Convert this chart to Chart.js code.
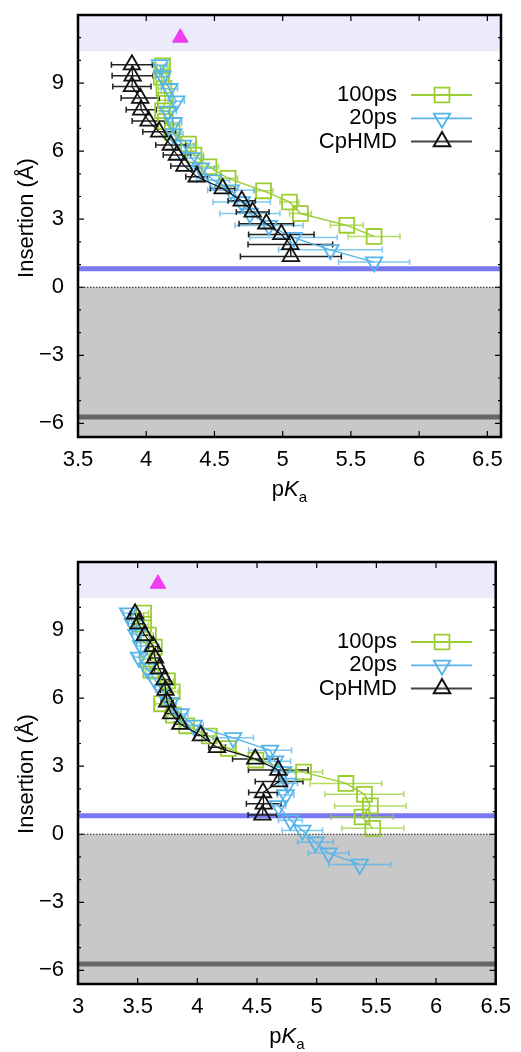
<!DOCTYPE html>
<html>
<head>
<meta charset="utf-8">
<script src="https://cdn.jsdelivr.net/npm/chart.js@4.4.1/dist/chart.umd.min.js"></script>
<style>
  body { margin: 0; background: #fff; }
  canvas { position: absolute; left: 0; }
  #top { top: 0; }
  #bottom { top: 526px; }
</style>
</head>
<body>
<canvas id="top" width="521" height="526"></canvas>
<canvas id="bottom" width="521" height="526"></canvas>
<script>
// ---- top panel data ----
const topY100 = [9.76, 9.26, 8.76, 8.24, 7.78, 7.30, 6.84, 6.31, 5.83, 5.31, 4.80, 4.25, 3.76, 3.25, 2.73, 2.24];
const topX100 = [4.12, 4.11, 4.13, 4.14, 4.12, 4.14, 4.19, 4.31, 4.35, 4.46, 4.60, 4.86, 5.05, 5.13, 5.47, 5.67];
const topE100 = [0.04, 0.04, 0.04, 0.05, 0.05, 0.05, 0.06, 0.06, 0.07, 0.07, 0.07, 0.07, 0.07, 0.08, 0.12, 0.19];

const topY20 = [9.80, 9.30, 8.75, 8.20, 7.75, 7.25, 6.75, 6.25, 5.70, 5.25, 4.72, 4.28, 3.76, 3.25, 2.72, 2.19, 1.65, 1.11];
const topX20 = [4.10, 4.12, 4.17, 4.22, 4.16, 4.20, 4.20, 4.27, 4.33, 4.40, 4.49, 4.62, 4.70, 4.76, 4.90, 5.08, 5.35, 5.67];
const topE20 = [0.05, 0.05, 0.06, 0.06, 0.06, 0.06, 0.07, 0.08, 0.09, 0.10, 0.12, 0.17, 0.21, 0.22, 0.25, 0.32, 0.38, 0.26];

const topYCp = [9.81, 9.32, 8.85, 8.34, 7.82, 7.33, 6.85, 6.27, 5.83, 5.34, 4.87, 4.35, 3.81, 3.32, 2.80, 2.33, 1.89, 1.36];
const topXCp = [3.895, 3.90, 3.895, 3.956, 3.963, 4.017, 4.095, 4.18, 4.225, 4.28, 4.37, 4.56, 4.70, 4.78, 4.88, 4.99, 5.056, 5.06];
const topECp = [0.15, 0.15, 0.14, 0.14, 0.11, 0.12, 0.12, 0.11, 0.10, 0.10, 0.08, 0.09, 0.10, 0.12, 0.20, 0.24, 0.31, 0.37];

const topRef = [4.25, 11.0];
const topXTicks = [3.5, 4, 4.5, 5, 5.5, 6, 6.5];

// ---- bottom panel data ----
const botY100 = [9.75, 9.25, 8.78, 8.25, 7.72, 7.23, 6.76, 6.28, 5.75, 5.25, 4.78, 4.33, 3.78, 3.27, 2.74, 2.24, 1.76, 1.25, 0.76, 0.26];
const botX100 = [3.55, 3.55, 3.59, 3.64, 3.58, 3.61, 3.75, 3.79, 3.70, 3.80, 3.91, 4.10, 4.26, 4.49, 4.89, 5.245, 5.40, 5.45, 5.38, 5.47];
const botE100 = [0.04, 0.04, 0.04, 0.04, 0.04, 0.04, 0.05, 0.05, 0.05, 0.05, 0.05, 0.05, 0.06, 0.06, 0.16, 0.30, 0.33, 0.30, 0.26, 0.26];

const botY20 = [9.75, 9.28, 8.80, 8.30, 7.80, 7.30, 6.85, 6.35, 5.80, 5.30, 4.80, 4.25, 3.70, 3.22, 2.75, 2.24, 1.73, 1.25, 0.62, 0.17, -0.35, -0.83, -1.33];
const botX20 = [3.42, 3.46, 3.49, 3.53, 3.51, 3.58, 3.64, 3.70, 3.775, 3.86, 3.97, 4.30, 4.61, 4.65, 4.72, 4.76, 4.74, 4.68, 4.78, 4.88, 4.99, 5.10, 5.36];
const botE20 = [0.04, 0.04, 0.04, 0.04, 0.04, 0.04, 0.04, 0.05, 0.05, 0.06, 0.08, 0.17, 0.18, 0.13, 0.10, 0.08, 0.07, 0.06, 0.10, 0.17, 0.15, 0.17, 0.26];

const botYCp = [9.72, 9.28, 8.77, 8.28, 7.77, 7.30, 6.82, 6.35, 5.84, 5.32, 4.85, 4.35, 3.83, 3.32, 2.83, 2.32, 1.84, 1.34, 0.85];
const botXCp = [3.478, 3.508, 3.56, 3.63, 3.645, 3.68, 3.725, 3.733, 3.747, 3.78, 3.857, 4.03, 4.165, 4.485, 4.678, 4.685, 4.55, 4.556, 4.545];
const botECp = [0.04, 0.04, 0.04, 0.04, 0.04, 0.04, 0.04, 0.04, 0.05, 0.05, 0.05, 0.05, 0.07, 0.19, 0.25, 0.20, 0.12, 0.145, 0.12];

const botRef = [3.67, 11.04];
const botXTicks = [3, 3.5, 4, 4.5, 5, 5.5, 6, 6.5];

// shared
const yTicks = [-6, -3, 0, 3, 6, 9];
const yMinorTicks = [-5, -4, -2, -1, 1, 2, 4, 5, 7, 8, 10, 11];
const headGroupTop = 10.4;   // lavender band from here up
const phosphateLine = 0.82;  // blue line
const bottomLine = -5.72;    // dark grey line

const green = '#9acd32', blue = '#56b4e9', black = '#111111', magenta = '#f03cf0';
const FONT = "'Liberation Sans', Arial, Helvetica, sans-serif";
Chart.defaults.font.family = FONT;

function pts(xs, ys) {
  return xs.map((x, i) => ({ x: x, y: ys[i] }));
}

function series(label, xs, ys, errs, color, errColor, style, rot, r, lw, order) {
  return {
    label: label,
    data: pts(xs, ys),
    errors: errs,
    errorColor: errColor,
    showLine: true,
    borderColor: color,
    borderWidth: lw,
    pointStyle: style,
    pointRotation: rot,
    pointRadius: r,
    pointBorderWidth: 1.8,
    pointBackgroundColor: 'rgba(0,0,0,0)',
    pointBorderColor: color,
    order: order
  };
}

const bands = {
  id: 'bands',
  beforeDraw(chart) {
    const { ctx, chartArea: a, scales: { y } } = chart;
    ctx.save();
    const yh = y.getPixelForValue(headGroupTop);
    ctx.fillStyle = '#ebebfb';
    ctx.fillRect(a.left, a.top, a.right - a.left, yh - a.top);
    const y0 = y.getPixelForValue(0);
    ctx.fillStyle = '#c8c8c8';
    ctx.fillRect(a.left, y0, a.right - a.left, a.bottom - y0);
    ctx.strokeStyle = '#222';
    ctx.lineWidth = 1;
    ctx.setLineDash([1.5, 1.5]);
    ctx.beginPath();
    ctx.moveTo(a.left, y0); ctx.lineTo(a.right, y0);
    ctx.stroke();
    ctx.setLineDash([]);
    ctx.lineWidth = 5;
    ctx.strokeStyle = '#7878f2';
    let yy = y.getPixelForValue(phosphateLine);
    ctx.beginPath(); ctx.moveTo(a.left, yy); ctx.lineTo(a.right, yy); ctx.stroke();
    ctx.strokeStyle = '#666666';
    yy = y.getPixelForValue(bottomLine);
    ctx.beginPath(); ctx.moveTo(a.left, yy); ctx.lineTo(a.right, yy); ctx.stroke();
    ctx.restore();
  }
};

const errorBars = {
  id: 'errorBars',
  beforeDatasetsDraw(chart) {
    const { ctx, scales: { x, y } } = chart;
    ctx.save();
    ctx.lineWidth = 1.5;
    chart.data.datasets.forEach(ds => {
      if (!ds.errors) return;
      ctx.strokeStyle = ds.errorColor;
      ds.data.forEach((p, i) => {
        const x0 = x.getPixelForValue(p.x - ds.errors[i]);
        const x1 = x.getPixelForValue(p.x + ds.errors[i]);
        const py = y.getPixelForValue(p.y);
        ctx.beginPath();
        ctx.moveTo(x0, py); ctx.lineTo(x1, py);
        ctx.moveTo(x0, py - 3); ctx.lineTo(x0, py + 3);
        ctx.moveTo(x1, py - 3); ctx.lineTo(x1, py + 3);
        ctx.stroke();
      });
    });
    ctx.restore();
  }
};

const frame = {
  id: 'frame',
  afterDatasetsDraw(chart) {
    const { ctx, chartArea: a, scales: { x, y } } = chart;
    ctx.save();
    ctx.strokeStyle = '#000';
    ctx.lineWidth = 1.2;
    ctx.beginPath();
    x.ticks.forEach(t => {
      const px = x.getPixelForValue(t.value);
      ctx.moveTo(px, a.bottom); ctx.lineTo(px, a.bottom - 6);
      ctx.moveTo(px, a.top); ctx.lineTo(px, a.top + 6);
    });
    y.ticks.forEach(t => {
      const py = y.getPixelForValue(t.value);
      ctx.moveTo(a.left, py); ctx.lineTo(a.left + 6, py);
      ctx.moveTo(a.right, py); ctx.lineTo(a.right - 6, py);
    });
    yMinorTicks.forEach(v => {
      const py = y.getPixelForValue(v);
      if (py < a.top || py > a.bottom) return;
      ctx.moveTo(a.left, py); ctx.lineTo(a.left + 3, py);
      ctx.moveTo(a.right, py); ctx.lineTo(a.right - 3, py);
    });
    ctx.stroke();
    ctx.lineWidth = 2.5;
    ctx.strokeRect(a.left, a.top, a.right - a.left, a.bottom - a.top);
    ctx.restore();
  }
};

const labels = {
  id: 'labels',
  afterDraw(chart, args, opts) {
    const { ctx, chartArea: a } = chart;
    ctx.save();
    ctx.fillStyle = '#000';
    // legend
    ctx.font = '22px ' + FONT;
    ctx.textAlign = 'right';
    ctx.textBaseline = 'middle';
    chart.data.datasets.filter(ds => ds.errors).forEach((ds, i) => {
      const yy = a.top + 80 + 23.3 * i;
      ctx.fillStyle = '#000';
      ctx.fillText(ds.label, a.left + 319, yy);
      ctx.strokeStyle = ds.label === 'CpHMD' ? '#444' : ds.borderColor;
      ctx.lineWidth = ds.label === 'CpHMD' ? 2 : 1.8;
      ctx.beginPath(); ctx.moveTo(a.left + 333, yy); ctx.lineTo(a.left + 394, yy); ctx.stroke();
      ctx.strokeStyle = ds.borderColor;
      ctx.fillStyle = 'rgba(0,0,0,0)';
      Chart.helpers.drawPoint(ctx, {
        pointStyle: ds.pointStyle, rotation: ds.pointRotation,
        radius: ds.pointRadius, borderWidth: ds.pointBorderWidth
      }, a.left + 364, yy);
    });
    // x title: p K_a
    ctx.fillStyle = '#000';
    ctx.textAlign = 'left';
    ctx.textBaseline = 'alphabetic';
    const cx = (a.left + a.right) / 2;
    const by = a.bottom + 59;
    ctx.font = '22px ' + FONT;
    const wp = ctx.measureText('p').width;
    ctx.font = 'italic 22px ' + FONT;
    const wk = ctx.measureText('K').width;
    ctx.font = '15px ' + FONT;
    const wa = ctx.measureText('a').width;
    let sx = cx - (wp + wk + wa) / 2;
    ctx.font = '22px ' + FONT;
    ctx.fillText('p', sx, by);
    ctx.font = 'italic 22px ' + FONT;
    ctx.fillText('K', sx + wp, by);
    ctx.font = '15px ' + FONT;
    ctx.fillText('a', sx + wp + wk, by + 6);
    // y title
    ctx.font = '22px ' + FONT;
    ctx.textAlign = 'center';
    ctx.translate(33, opts.titleY);
    ctx.rotate(-Math.PI / 2);
    ctx.fillText('Insertion (Å)', 0, 0);
    ctx.restore();
  }
};

function panel(id, d) {
  return new Chart(document.getElementById(id), {
    type: 'scatter',
    data: {
      datasets: [
        series('100ps', d.x100, d.y100, d.e100, green, 'rgba(154,205,50,0.75)', 'rect', 0, 10.5, 1.4, 3),
        series('20ps', d.x20, d.y20, d.e20, blue, 'rgba(86,180,233,0.75)', 'triangle', 180, 9.5, 1.4, 2),
        series('CpHMD', d.xCp, d.yCp, d.eCp, black, '#222222', 'triangle', 0, 9.5, 1.2, 1),
        {
          label: 'ref', data: [{ x: d.ref[0], y: d.ref[1] }],
          pointStyle: 'triangle', pointRadius: 9, pointBorderWidth: 1,
          pointBackgroundColor: magenta, pointBorderColor: magenta, showLine: false, order: 0
        }
      ]
    },
    options: {
      responsive: false,
      animation: false,
      layout: { padding: { top: d.padTop, right: d.padRight, left: 0, bottom: 0 } },
      plugins: {
        legend: { display: false },
        tooltip: { enabled: false },
        labels: { titleY: d.titleY }
      },
      scales: {
        x: {
          type: 'linear', min: d.xMin, max: d.xMax,
          afterBuildTicks: s => { s.ticks = d.xTicks.map(v => ({ value: v })); },
          afterFit: s => { s.height = d.xAxisH; },
          grid: { display: false, drawTicks: false },
          border: { display: false },
          ticks: { color: '#000', font: { size: 22 }, padding: 10, maxRotation: 0, callback: v => String(v) }
        },
        y: {
          type: 'linear', min: -6.6, max: 12,
          afterBuildTicks: s => { s.ticks = yTicks.map(v => ({ value: v })); },
          afterFit: s => { s.width = 78; s.paddingTop = 0; s.paddingBottom = 0; },
          grid: { display: false, drawTicks: false },
          border: { display: false },
          ticks: { color: '#000', font: { size: 22 }, padding: 14, callback: v => String(v).replace('-', '\u2212') }
        }
      }
    },
    plugins: [bands, errorBars, frame, labels]
  });
}

panel('top', {
  x100: topX100, y100: topY100, e100: topE100,
  x20: topX20, y20: topY20, e20: topE20,
  xCp: topXCp, yCp: topYCp, eCp: topECp,
  ref: topRef, xTicks: topXTicks, xMin: 3.5, xMax: 6.6,
  padTop: 15, padRight: 20, xAxisH: 89, titleY: 218
});

panel('bottom', {
  x100: botX100, y100: botY100, e100: botE100,
  x20: botX20, y20: botY20, e20: botE20,
  xCp: botXCp, yCp: botYCp, eCp: botECp,
  ref: botRef, xTicks: botXTicks, xMin: 3, xMax: 6.5,
  padTop: 36, padRight: 21, xAxisH: 68, titleY: 248
});
</script>
</body>
</html>
